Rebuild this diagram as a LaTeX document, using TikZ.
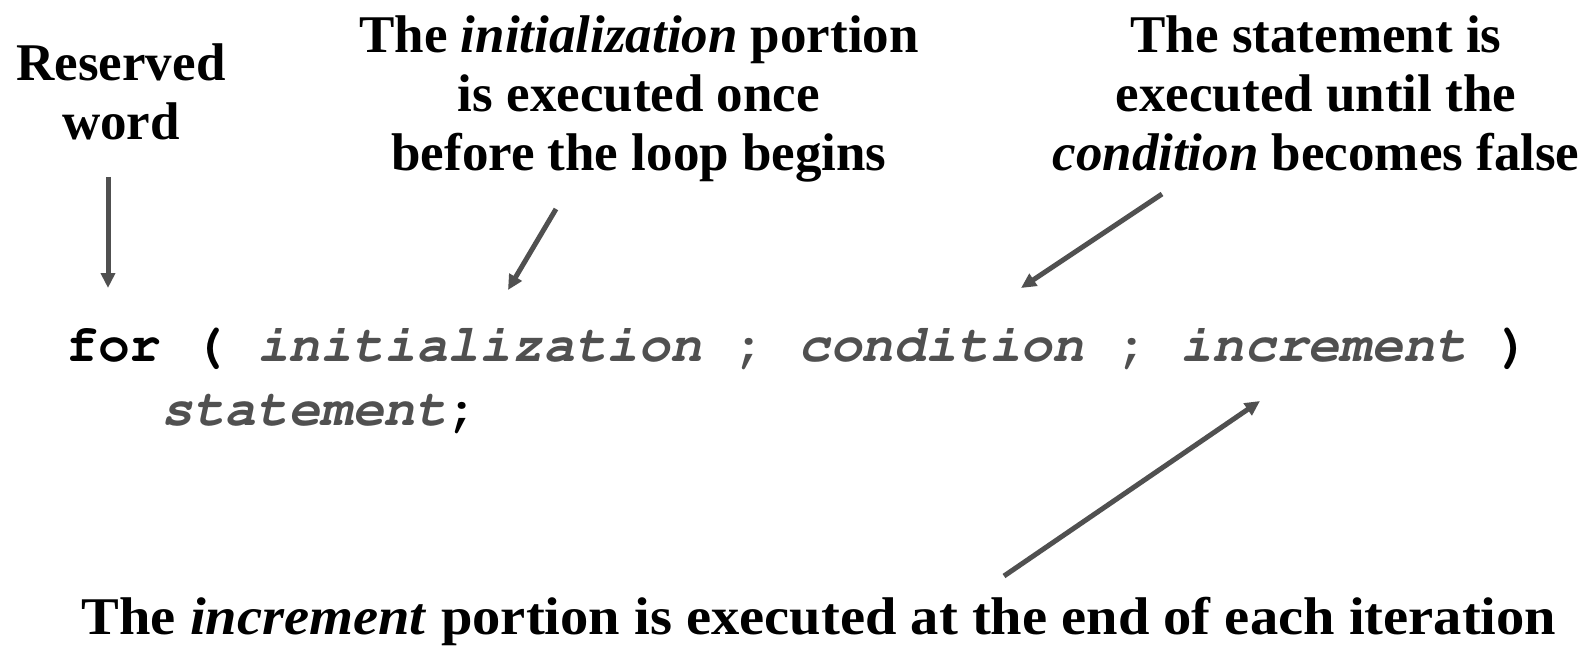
\documentclass[tikz,border=0pt]{standalone}
\usepackage{fontspec}
\setmainfont{Liberation Serif}
\usetikzlibrary{arrows.meta}
\definecolor{codegray}{HTML}{505050}
\definecolor{arrowgray}{HTML}{505050}
% Courier for the code line
\newcommand{\couriercode}{\fontencoding{T1}\fontfamily{pcr}\bfseries}
\tikzset{
  note/.style={font=\bfseries\fontsize{53}{59}\selectfont, align=center, inner sep=0pt, anchor=base},
  widenote/.style={note, font=\bfseries\fontsize{53}{59}\selectfont\addfontfeature{FakeStretch=1.067}},
  code/.style={font=\couriercode\fontsize{53}{63}\selectfont, inner sep=0pt, anchor=base west},
  pointer/.style={draw=arrowgray, line width=5pt, -{Triangle[length=15pt,width=14pt]}}
}
\newcommand{\ph}[1]{\textcolor{codegray}{\textit{#1}}}
\begin{document}
\begin{tikzpicture}[x=1pt,y=1pt]
  \path[use as bounding box] (0,0) rectangle (1585,-647);

  % explanatory notes (anchored at the baseline of their last line)
  \node[note] (reserved) at (121,-140) {Reserved\\word};
  \node[note] (initnote) at (639,-171) {The \textit{initialization} portion\\is executed once\\before the loop begins};
  \node[note] (condnote) at (1316,-171) {The statement is\\executed until the\\\textit{condition} becomes false};
  \node[widenote] (incnote) at (819,-634) {The \textit{increment} portion is executed at the end of each iteration};

  % the for statement
  \node[code] (header) at (66,-361) {for ( \ph{initialization} \textcolor{codegray}{;} \ph{condition} \textcolor{codegray}{;} \ph{increment} )};
  \node[code] (body) at (161,-425) {\ph{statement};};

  % arrow end points
  \coordinate (rwA) at (108,-177);
  \coordinate (rwB) at (108,-288);
  \coordinate (inA) at (556,-209);
  \coordinate (inB) at (508,-290);
  \coordinate (cdA) at (1162,-194);
  \coordinate (cdB) at (1021,-288);
  \coordinate (icA) at (1004,-576);
  \coordinate (icB) at (1260,-401);

  \draw[pointer] (rwA) -- (rwB);
  \draw[pointer] (inA) -- (inB);
  \draw[pointer] (cdA) -- (cdB);
  \draw[pointer] (icA) -- (icB);
\end{tikzpicture}
\end{document}
